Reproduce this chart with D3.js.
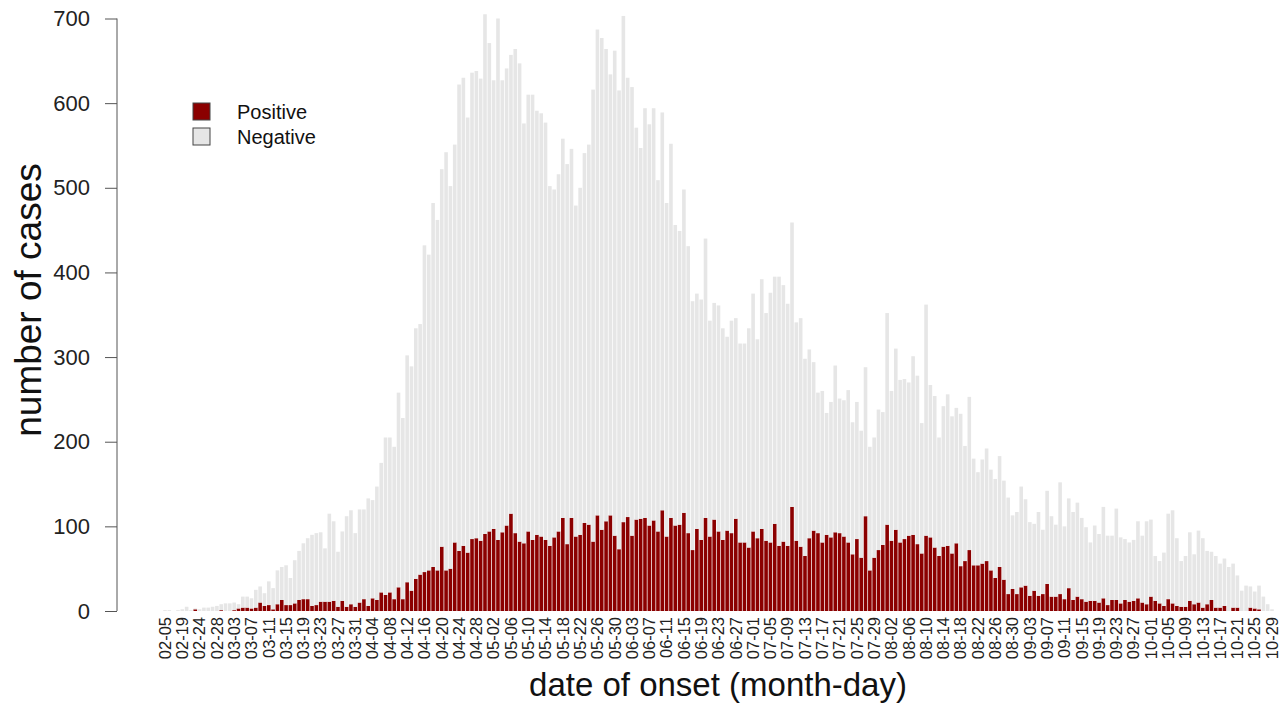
<!DOCTYPE html>
<html><head><meta charset="utf-8">
<script src="https://cdn.jsdelivr.net/npm/d3@7"></script>
<style>body{margin:0;background:#fff}svg{display:block}text{font-family:"Liberation Sans",Arial,Helvetica,sans-serif}</style>
</head><body><div id="chart"></div>
<script>
// Category dates (month-day), 2020
const earlyDates = ["02-05","02-09","02-13","02-17","02-19","02-20","02-21","02-23"];
const dates = earlyDates.concat(d3.timeDay.range(new Date(2020,1,24), new Date(2020,9,30)).map(d3.timeFormat("%m-%d")));

// Positive cases per day
const positive = [
0,0,0,0,0,0,0,2,0,0,0,0,0,1,0,0,1,3,4,4,
3,4,10,6,7,2,8,13,7,7,9,13,14,14,6,7,11,11,11,12,
5,12,5,8,5,10,14,6,15,13,22,19,22,14,28,14,34,24,38,43,
46,48,52,48,76,48,50,81,71,77,69,85,86,83,91,94,97,84,93,101,
115,92,82,80,94,84,90,88,84,77,87,94,110,79,110,88,90,104,102,82,
113,96,106,113,89,73,105,111,89,108,109,110,101,107,94,119,88,110,101,102,
116,92,72,97,84,110,88,108,94,84,95,92,109,81,81,75,94,86,97,83,
81,103,77,82,77,123,83,76,65,86,95,92,81,90,87,93,92,88,81,67,
85,63,112,48,63,72,78,102,83,96,81,85,89,90,79,68,89,87,75,65,
76,77,68,80,53,59,72,54,54,56,59,48,39,52,37,20,26,20,28,30,
18,24,18,20,32,17,17,20,14,27,13,17,14,11,12,12,10,15,7,13,
13,9,13,11,12,15,10,8,17,12,9,6,14,9,6,5,5,12,8,10,
4,8,13,4,4,6,0,4,4,0,0,4,3,2,0,0,0];

// Negative cases per day
const negative = [
1,1,0,1,2,5,1,1,2,4,4,5,6,7,9,9,9,5,13,13,
12,21,19,15,28,25,40,39,47,32,51,58,66,72,84,85,82,63,104,94,
65,82,107,111,87,110,106,127,116,134,153,186,183,180,230,214,268,265,296,296,
386,373,430,414,446,494,452,470,551,553,514,551,552,546,614,577,530,616,534,540,
542,572,565,496,516,526,501,500,493,425,411,422,448,449,436,391,410,437,449,534,
574,581,558,521,573,542,598,519,530,463,438,484,474,487,415,470,394,442,355,347,
382,339,294,278,284,330,255,256,267,250,229,251,237,235,235,259,281,235,295,269,
295,292,318,303,286,336,258,270,233,223,199,166,179,144,160,197,159,161,180,156,
162,150,176,146,142,166,157,250,177,214,192,189,181,211,199,154,273,180,179,140,
166,179,162,160,180,136,181,126,110,123,133,119,117,131,117,114,87,97,119,102,
87,79,99,76,110,95,85,132,86,106,104,111,96,88,69,89,81,108,82,76,
108,78,72,70,72,91,79,98,91,53,50,63,101,110,80,54,60,81,59,85,
82,63,57,61,52,56,52,52,38,24,30,25,20,28,17,8,2];

const yTicks = [0,100,200,300,400,500,600,700];
const xTickLabels = ["02-05","02-19","02-24","02-28","03-03","03-07","03-11","03-15","03-19","03-23","03-27","03-31",
"04-04","04-08","04-12","04-16","04-20","04-24","04-28","05-02","05-06","05-10","05-14","05-18","05-22","05-26","05-30",
"06-03","06-07","06-11","06-15","06-19","06-23","06-27","07-01","07-05","07-09","07-13","07-17","07-21","07-25","07-29",
"08-02","08-06","08-10","08-14","08-18","08-22","08-26","08-30","09-03","09-07","09-11","09-15","09-19","09-23","09-27",
"10-01","10-05","10-09","10-13","10-17","10-21","10-25","10-29"];
const seriesNames = ["Positive","Negative"];
const seriesColors = ["#8b0000","#e6e6e6"];

const W = 1288, H = 726;
const svg = d3.select("#chart").append("svg").attr("width", W).attr("height", H);

const rows = dates.map((d,i)=>({date:d, Positive:positive[i], Negative:negative[i]}));
const stack = d3.stack().keys(seriesNames)(rows);

const step = 4.324;
const x = d3.scaleBand().domain(dates).range([165 - step/2, 1272 + step/2]).paddingInner(1/6).paddingOuter(1/12);
const y = d3.scaleLinear().domain([0,700]).range([611, 18.5]);

const g = svg.append("g");
g.selectAll("g.series").data(stack).join("g")
  .attr("fill", (d,i)=>seriesColors[i])
  .selectAll("rect").data(d=>d).join("rect")
  .attr("x", d=>x(d.data.date))
  .attr("width", x.bandwidth())
  .attr("y", d=>y(d[1]))
  .attr("height", d=>Math.max(0, y(d[0]) - y(d[1])));

// Y axis
const yAxis = d3.axisLeft(y).tickValues(yTicks).tickSize(12).tickPadding(15);
const ya = svg.append("g").attr("transform","translate(117,0)").call(yAxis);
ya.select(".domain").attr("stroke","#555").attr("d","M0,"+y(0)+"V"+y(700));
ya.selectAll(".tick line").attr("stroke","#555");
ya.selectAll(".tick text").attr("font-size",22).attr("fill","#222").attr("font-family","Liberation Sans, Arial, sans-serif");

// X tick labels
const xAxis = d3.axisBottom(x).tickValues(xTickLabels).tickSize(0).tickPadding(0);
const xa = svg.append("g").attr("transform","translate(0,617)").call(xAxis);
xa.select(".domain").remove();
xa.selectAll(".tick text")
  .attr("font-size",16.5).attr("fill","#222").attr("font-family","Liberation Sans, Arial, sans-serif")
  .attr("text-anchor","end").attr("transform","rotate(-90)")
  .attr("x",0).attr("y",0).attr("dy","0.35em");

// Axis titles
svg.append("text").attr("x",718).attr("y",696).attr("text-anchor","middle")
  .attr("font-size",33).attr("fill","#111").text("date of onset (month-day)");
svg.append("text").attr("transform","translate(41,300) rotate(-90)").attr("text-anchor","middle")
  .attr("font-size",37).attr("fill","#111").text("number of cases");

// Legend
const lg = svg.append("g");
seriesNames.forEach((s,i)=>{
  lg.append("rect").attr("x",193).attr("y",103+i*25).attr("width",17).attr("height",17)
    .attr("fill",seriesColors[i]).attr("stroke","#444").attr("stroke-width",1);
  lg.append("text").attr("x",237).attr("y",112+i*25).attr("dy","0.35em")
    .attr("font-size",20).attr("fill","#111").text(s);
});
</script></body></html>
